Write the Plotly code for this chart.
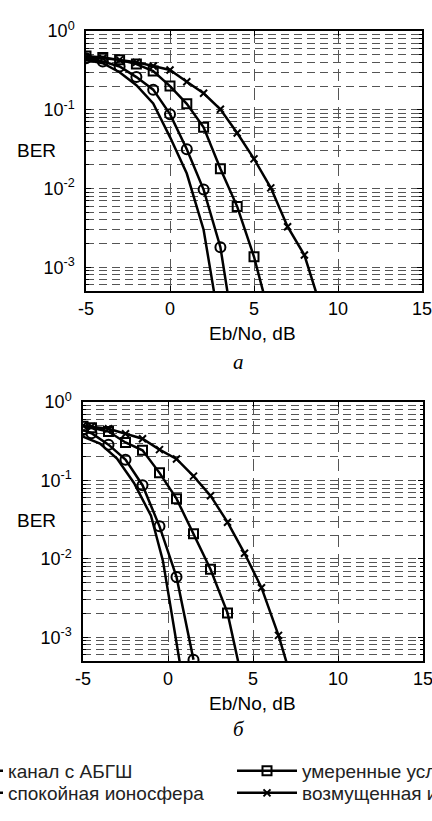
import math
import plotly.graph_objects as go

# ---------------- data ----------------
series_names = ["канал с АБГШ", "спокойная ионосфера", "умеренные условия", "возмущенная ионосфера"]

# panel "а"
a_awgn_x = [-5, -4, -3, -2, -1, 0, 1, 2, 3]
a_awgn_ber = [0.43, 0.39, 0.30, 0.205, 0.12, 0.045, 0.0155, 0.0030, 0.00016]
a_calm_x = [-5, -4, -3, -2, -1, 0, 1, 2, 3, 4]
a_calm_ber = [0.45, 0.41, 0.355, 0.26, 0.18, 0.088, 0.0316, 0.0097, 0.0018, 0.00008]
a_mod_x = [-5, -4, -3, -2, -1, 0, 1, 2, 3, 4, 5, 6]
a_mod_ber = [0.48, 0.46, 0.43, 0.38, 0.31, 0.20, 0.119, 0.060, 0.0178, 0.0059, 0.00136, 0.00021]
a_dist_x = [-5, -4, -3, -2, -1, 0, 1, 2, 3, 4, 5, 6, 7, 8, 9]
a_dist_ber = [0.46, 0.45, 0.43, 0.40, 0.36, 0.32, 0.227, 0.162, 0.1016, 0.0506, 0.0238, 0.0102, 0.00327, 0.00143, 0.0003]

# panel "б"
b_awgn_x = [-5, -4, -3, -2, -1, -0.3, 0.7]
b_awgn_ber = [0.363, 0.295, 0.19, 0.093, 0.0355, 0.0095, 0.00047]
b_calm_x = [-5, -4.5, -3.5, -2.5, -1.5, -0.5, 0.5, 1.5]
b_calm_ber = [0.44, 0.40, 0.286, 0.184, 0.087, 0.026, 0.0059, 0.00052]
b_mod_x = [-5, -4.5, -3.5, -2.5, -1.5, -0.5, 0.5, 1.5, 2.5, 3.5, 4.5]
b_mod_ber = [0.49, 0.47, 0.42, 0.305, 0.242, 0.125, 0.0586, 0.0209, 0.0074, 0.00205, 0.00021]
b_dist_x = [-5, -4.5, -3.5, -2.5, -1.5, -0.5, 0.5, 1.5, 2.5, 3.5, 4.5, 5.5, 6.5, 7.5]
b_dist_ber = [0.50, 0.488, 0.455, 0.394, 0.34, 0.247, 0.188, 0.1135, 0.064, 0.0294, 0.0118, 0.0043, 0.00106, 0.0002]

x_tick_vals = [-5, 0, 5, 10, 15]
x_tick_labels = ["-5", "0", "5", "10", "15"]
y_tick_vals = [1, 0.1, 0.01, 0.001]
y_tick_labels = ["10<sup>0</sup>", "10<sup>-1</sup>", "10<sup>-2</sup>", "10<sup>-3</sup>"]
y_min = 5e-4
x_title = "Eb/No, dB"
y_title = "BER"
captions = ["а", "б"]

# ---------------- figure ----------------
W, H = 432, 821
FONT = "Liberation Sans"
fig = go.Figure()

styles = {
    "awgn": dict(mode="lines", marker=dict()),
    "calm": dict(mode="lines+markers", marker=dict(symbol="circle-open", size=10, color="black", line=dict(width=2, color="black"))),
    "mod": dict(mode="lines+markers", marker=dict(symbol="square-open", size=9, color="black", line=dict(width=2, color="black"))),
    "dist": dict(mode="lines+markers", marker=dict(symbol="x-thin", size=7, color="black", line=dict(width=2, color="black"))),
}

panel_a = [("awgn", a_awgn_x, a_awgn_ber, "legend"), ("calm", a_calm_x, a_calm_ber, "legend2"),
           ("mod", a_mod_x, a_mod_ber, "legend3"), ("dist", a_dist_x, a_dist_ber, "legend4")]
panel_b = [("awgn", b_awgn_x, b_awgn_ber), ("calm", b_calm_x, b_calm_ber),
           ("mod", b_mod_x, b_mod_ber), ("dist", b_dist_x, b_dist_ber)]
key_names = dict(zip(["awgn", "calm", "mod", "dist"], series_names))

for key, xs, ys, lg in panel_a:
    st = styles[key]
    fig.add_trace(go.Scatter(x=xs, y=ys, mode=st["mode"], marker=st["marker"],
                             line=dict(color="black", width=2.5), name=key_names[key],
                             legend=lg, showlegend=True, xaxis="x", yaxis="y"))
for key, xs, ys in panel_b:
    st = styles[key]
    fig.add_trace(go.Scatter(x=xs, y=ys, mode=st["mode"], marker=st["marker"],
                             line=dict(color="black", width=2.5), name=key_names[key],
                             showlegend=False, xaxis="x2", yaxis="y2"))

def px_x(p):
    return p / W

def px_y(p):
    return 1 - p / H

grid_col = "#555555"
tick_font = dict(family=FONT, size=18, color="black")

def xaxis_cfg(dom, anchor):
    return dict(domain=dom, anchor=anchor, range=[-5, 15], tickmode="array",
                tickvals=x_tick_vals, ticktext=x_tick_labels, ticks="inside", ticklen=5,
                tickcolor="black", tickwidth=1, showline=True, linecolor="black", linewidth=1.5,
                mirror="ticks", showgrid=True, gridcolor=grid_col, gridwidth=1,
                griddash="12px,7px", zeroline=False, tickfont=tick_font, ticklabelstandoff=1,
                ticklabeloverflow="allow")

def yaxis_cfg(dom, anchor):
    return dict(domain=dom, anchor=anchor, type="log", range=[math.log10(y_min), 0],
                tickmode="array", tickvals=y_tick_vals, ticktext=y_tick_labels,
                ticks="inside", ticklen=5, tickcolor="black", tickwidth=1,
                showline=True, linecolor="black", linewidth=1.5, mirror="ticks",
                showgrid=True, gridcolor=grid_col, gridwidth=1, griddash="8px,5px",
                zeroline=False, tickfont=tick_font, ticklabelstandoff=6,
                minor=dict(dtick="D1", ticks="inside", ticklen=3, tickcolor="black",
                           showgrid=True, gridcolor=grid_col, gridwidth=1, griddash="8px,5px"))

ax_a = dict(x0=86, x1=422, top=31, bot=291)
ax_b = dict(x0=83, x1=423, top=402, bot=661)

annotations = []
for ax, cap, tit_y, cap_y in [(ax_a, captions[0], 333, 362), (ax_b, captions[1], 703, 729)]:
    annotations.append(dict(text=y_title, x=px_x(36), y=px_y((ax["top"] + ax["bot"]) / 2 - 11),
                            xref="paper", yref="paper", showarrow=False,
                            xanchor="center", yanchor="middle",
                            font=dict(family=FONT, size=19, color="black")))
    annotations.append(dict(text=x_title, x=px_x(252), y=px_y(tit_y), xref="paper", yref="paper",
                            showarrow=False, xanchor="center", yanchor="middle",
                            font=dict(family=FONT, size=19, color="black")))
    annotations.append(dict(text="<i>" + cap + "</i>", x=px_x(239), y=px_y(cap_y), xref="paper",
                            yref="paper", showarrow=False, xanchor="center", yanchor="middle",
                            font=dict(family="Liberation Serif", size=21, color="black")))

legend_font = dict(family=FONT, size=19, color="#222222")

def legend_cfg(left_px, row_center_px):
    return dict(x=px_x(left_px), y=px_y(row_center_px), xanchor="left", yanchor="middle",
                font=legend_font, itemwidth=60, bgcolor="rgba(0,0,0,0)", tracegroupgap=0)

fig.update_layout(
    width=W, height=H, margin=dict(l=0, r=0, t=0, b=0, autoexpand=False),
    paper_bgcolor="white", plot_bgcolor="white",
    xaxis=xaxis_cfg([px_x(ax_a["x0"]), px_x(ax_a["x1"])], "y"),
    yaxis=yaxis_cfg([px_y(ax_a["bot"]), px_y(ax_a["top"])], "x"),
    xaxis2=xaxis_cfg([px_x(ax_b["x0"]), px_x(ax_b["x1"])], "y2"),
    yaxis2=yaxis_cfg([px_y(ax_b["bot"]), px_y(ax_b["top"])], "x2"),
    annotations=annotations,
    legend=legend_cfg(-62, 771),
    legend2=legend_cfg(-62, 793),
    legend3=legend_cfg(232, 771),
    legend4=legend_cfg(232, 793),
)

# let the figure fill the window exactly (no default page margin)
page_css = "document.body.style.margin='0';document.body.style.overflow='hidden';"
fig.write_html("out.html", post_script=page_css, config={"displayModeBar": False})
